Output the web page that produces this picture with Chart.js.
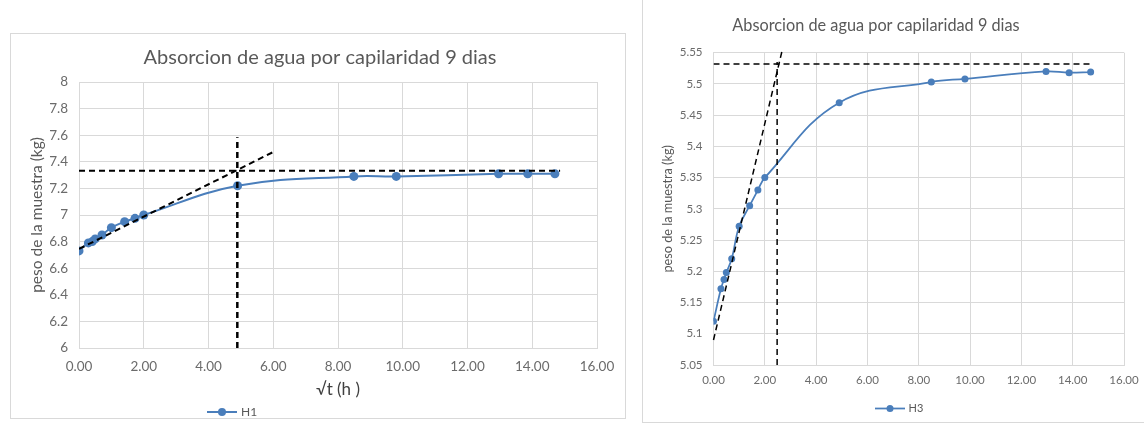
<!DOCTYPE html>
<html lang="es">
<head>
<meta charset="utf-8">
<title>Absorcion de agua por capilaridad 9 dias</title>
<script src="https://cdn.jsdelivr.net/npm/chart.js@4.4.1/dist/chart.umd.min.js"></script>
<style>
    html, body { margin: 0; padding: 0; background: #fff; }
    body { width: 1144px; height: 423px; position: relative; overflow: hidden; }
    .marco { position: absolute; border: 1px solid #d9d9d9; box-sizing: border-box; }
    .lienzo { position: absolute; }
</style>
</head>
<body>
<div class="marco" style="left:10px; top:33px; width:616px; height:386px;"></div>
<div class="marco" style="left:642px; top:-2px; width:540px; height:425px;"></div>
<div class="lienzo" style="left:12px; top:33px; width:615px; height:395px;"><canvas id="chartH1"></canvas></div>
<div class="lienzo" style="left:596px; top:0px; width:552px; height:424px;"><canvas id="chartH3"></canvas></div>

<script>
// raiz del tiempo (h) en cada pesada, 9 dias
const raizTiempo = [0, 0.29, 0.41, 0.5, 0.71, 1, 1.41, 1.73, 2, 4.9, 8.49, 9.8, 12.96, 13.86, 14.7];

// peso de la muestra (kg)
const pesoH1 = [6.73, 6.79, 6.80, 6.82, 6.85, 6.905, 6.95, 6.975, 7.0, 7.22, 7.29, 7.29, 7.31, 7.31, 7.31];
const pesoH3 = [5.12, 5.172, 5.187, 5.198, 5.22, 5.272, 5.305, 5.33, 5.35, 5.47, 5.503, 5.508, 5.52, 5.518, 5.519];

// lineas auxiliares: tangente inicial, peso de saturacion y punto de corte [x, y]
const tangenteH1 = [[0, 6.745], [6.02, 7.476]];
const saturacionH1 = [[0, 7.333], [14.86, 7.333]];
const corteH1 = [[4.89, 6], [4.89, 7.584]];

const tangenteH3 = [[0, 5.09], [2.69, 5.556]];
const saturacionH3 = [[0, 5.532], [14.8, 5.532]];
const corteH3 = [[2.48, 5.05], [2.48, 5.535]];

// divisiones de los ejes
const ticksX = [0, 2, 4, 6, 8, 10, 12, 14, 16];
const ticksH1 = [6, 6.2, 6.4, 6.6, 6.8, 7, 7.2, 7.4, 7.6, 7.8, 8];
const ticksH3 = [5.05, 5.1, 5.15, 5.2, 5.25, 5.3, 5.35, 5.4, 5.45, 5.5, 5.55];

const AZUL = '#4a7ebb';
const GRIS_GRILLA = '#d9d9d9';
const GRIS_TICKS = '#6b6b6b';
const TITULO = 'Absorcion de agua por capilaridad 9 dias';

Chart.defaults.font.family = 'Lato, "Liberation Sans", sans-serif';
Chart.defaults.color = '#595959';

const aPuntos = (xs, ys) => xs.map((x, i) => ({ x: x, y: ys[i] }));
const aLinea = (pares) => pares.map(p => ({ x: p[0], y: p[1] }));

// la leyenda de excel queda corrida a la izquierda, la movemos despues del layout
const desplazarLeyenda = {
    id: 'desplazarLeyenda',
    afterLayout(chart, args, opts) {
        const leyenda = chart.legend;
        if (!leyenda || !opts.dx) return;
        leyenda.left += opts.dx;
        leyenda.right += opts.dx;
    }
};

// icono de la leyenda: linea con marcador
function iconoLeyenda(ancho, radio, grosor) {
    const c = document.createElement('canvas');
    c.width = ancho;
    c.height = radio * 2 + 2;
    const g = c.getContext('2d');
    g.strokeStyle = AZUL;
    g.lineWidth = grosor;
    g.beginPath();
    g.moveTo(0, c.height / 2);
    g.lineTo(ancho, c.height / 2);
    g.stroke();
    g.fillStyle = AZUL;
    g.beginPath();
    g.arc(ancho / 2, c.height / 2, radio, 0, Math.PI * 2);
    g.fill();
    return c;
}

function lineaGuia(pares, grosor, recortar) {
    return {
        data: aLinea(pares),
        borderColor: '#000',
        borderWidth: grosor,
        borderDash: [6, 4],
        pointRadius: 0,
        tension: 0,
        fill: false,
        clip: recortar ? undefined : false,
        order: 0
    };
}

window.renderH1Chart = () => {
    try {
        const ctx = document.getElementById('chartH1')?.getContext('2d');
        if (!ctx) {
            console.error('Canvas context not found!');
            return;
        }

        window.h1ChartInstance = new Chart(ctx, {
            type: 'line',
            data: {
                datasets: [
                    {
                        label: 'H1',
                        data: aPuntos(raizTiempo, pesoH1),
                        borderColor: AZUL,
                        backgroundColor: AZUL,
                        borderWidth: 2,
                        pointRadius: 4.5,
                        pointBorderWidth: 0,
                        tension: 0.4,
                        fill: false,
                        order: 1
                    },
                    lineaGuia(tangenteH1, 2, true),
                    lineaGuia(saturacionH1, 2, true),
                    lineaGuia(corteH1, 2.5, true)
                ]
            },
            plugins: [desplazarLeyenda],
            options: {
                responsive: true,
                maintainAspectRatio: false,
                animation: false,
                layout: { padding: { left: 31, right: 30, top: 0, bottom: 0 } },
                plugins: {
                    title: {
                        display: true,
                        text: TITULO,
                        color: '#595959',
                        font: { size: 20, weight: 'normal' },
                        padding: { top: 12.5, bottom: 12.5 }
                    },
                    legend: {
                        position: 'bottom',
                        align: 'start',
                        labels: {
                            filter: (item) => item.datasetIndex === 0,
                            usePointStyle: true,
                            pointStyle: iconoLeyenda(30, 4, 2),
                            pointStyleWidth: 26,
                            padding: 4,
                            color: '#595959',
                            font: { size: 12 }
                        }
                    },
                    desplazarLeyenda: { dx: 162 },
                    tooltip: { enabled: false }
                },
                scales: {
                    x: {
                        type: 'linear',
                        min: 0,
                        max: 16,
                        afterBuildTicks: (s) => { s.ticks = ticksX.map(v => ({ value: v })); },
                        afterFit: (s) => { s.height = 54; },
                        grid: { color: GRIS_GRILLA, drawTicks: false },
                        border: { color: GRIS_GRILLA },
                        ticks: {
                            padding: 10.4,
                            color: GRIS_TICKS,
                            font: { size: 13.5 },
                            callback: (v) => v.toFixed(2)
                        },
                        title: {
                            display: true,
                            text: '√t (h )',
                            color: '#404040',
                            font: { size: 17 },
                            padding: { top: 0, bottom: 1.8 }
                        }
                    },
                    y: {
                        min: 6,
                        max: 8,
                        afterBuildTicks: (s) => { s.ticks = ticksH1.map(v => ({ value: v })); },
                        afterFit: (s) => { s.width = 36; },
                        grid: { color: GRIS_GRILLA, drawTicks: false },
                        border: { color: GRIS_GRILLA },
                        ticks: {
                            padding: 11,
                            color: GRIS_TICKS,
                            font: { size: 13.5 },
                            callback: (v) => String(+v.toFixed(2))
                        },
                        title: {
                            display: true,
                            text: 'peso de la muestra (kg)',
                            color: '#595959',
                            font: { size: 15.5 },
                            padding: { top: -15.3, bottom: 0 }
                        }
                    }
                }
            }
        });

        console.log('H1 chart rendered successfully.');
    } catch (error) {
        console.error('Error rendering H1 chart:', error);
    }
};

window.renderH3Chart = () => {
    try {
        const ctx = document.getElementById('chartH3')?.getContext('2d');
        if (!ctx) {
            console.error('Canvas context not found!');
            return;
        }

        window.h3ChartInstance = new Chart(ctx, {
            type: 'line',
            data: {
                datasets: [
                    {
                        label: 'H3',
                        data: aPuntos(raizTiempo, pesoH3),
                        borderColor: AZUL,
                        backgroundColor: AZUL,
                        borderWidth: 1.75,
                        pointRadius: 3.5,
                        pointBorderWidth: 0,
                        tension: 0.4,
                        fill: false,
                        order: 1
                    },
                    lineaGuia(tangenteH3, 1.5, false),
                    lineaGuia(saturacionH3, 1.5, true),
                    lineaGuia(corteH3, 1.5, true)
                ]
            },
            plugins: [desplazarLeyenda],
            options: {
                responsive: true,
                maintainAspectRatio: false,
                animation: false,
                layout: { padding: { left: 32, right: 24, top: 0, bottom: 0 } },
                plugins: {
                    title: {
                        display: true,
                        text: TITULO,
                        color: '#595959',
                        font: { size: 16.3, weight: 'normal' },
                        padding: { top: 16.2, bottom: 16.9 }
                    },
                    legend: {
                        position: 'bottom',
                        align: 'start',
                        labels: {
                            filter: (item) => item.datasetIndex === 0,
                            usePointStyle: true,
                            pointStyle: iconoLeyenda(30, 3.5, 1.75),
                            pointStyleWidth: 26,
                            padding: 4,
                            color: '#595959',
                            font: { size: 11 }
                        }
                    },
                    desplazarLeyenda: { dx: 245 },
                    tooltip: { enabled: false }
                },
                scales: {
                    x: {
                        type: 'linear',
                        min: 0,
                        max: 16,
                        afterBuildTicks: (s) => { s.ticks = ticksX.map(v => ({ value: v })); },
                        afterFit: (s) => { s.height = 34; },
                        grid: { color: GRIS_GRILLA, drawTicks: false },
                        border: { color: GRIS_GRILLA },
                        ticks: {
                            padding: 8.1,
                            color: GRIS_TICKS,
                            font: { size: 11.5 },
                            callback: (v) => v.toFixed(2)
                        }
                    },
                    y: {
                        min: 5.05,
                        max: 5.55,
                        afterBuildTicks: (s) => { s.ticks = ticksH3.map(v => ({ value: v })); },
                        afterFit: (s) => { s.width = 85.5; },
                        grid: { color: GRIS_GRILLA, drawTicks: false },
                        border: { color: GRIS_GRILLA },
                        ticks: {
                            padding: 11,
                            color: GRIS_TICKS,
                            font: { size: 11.5 },
                            callback: (v) => String(+v.toFixed(2))
                        },
                        title: {
                            display: true,
                            text: 'peso de la muestra (kg)',
                            color: '#595959',
                            font: { size: 12.7 },
                            padding: { top: 32.4, bottom: 0 }
                        }
                    }
                }
            }
        });

        console.log('H3 chart rendered successfully.');
    } catch (error) {
        console.error('Error rendering H3 chart:', error);
    }
};

window.renderH1Chart();
window.renderH3Chart();
</script>
</body>
</html>
